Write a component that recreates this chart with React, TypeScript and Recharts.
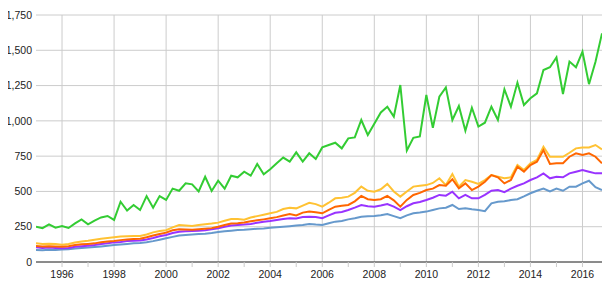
import React from 'react';
import { LineChart, Line, XAxis, YAxis, CartesianGrid, ReferenceLine } from 'recharts';

const startYear = 1995;
const green = [250,240,267,243,255,241,274,302,267,293,316,326,298,427,365,404,368,467,385,467,440,520,505,557,550,500,604,503,576,520,611,600,640,612,694,621,657,700,740,711,777,711,770,730,812,829,845,805,876,883,1006,900,980,1060,1100,1030,1254,790,880,890,1183,950,1171,1237,1006,1105,930,1093,960,987,1100,1006,1224,1100,1271,1112,1160,1195,1360,1380,1450,1190,1420,1380,1490,1260,1419,1620];
const yellow = [132,128,130,127,122,128,138,145,150,158,165,170,175,180,182,185,185,195,210,220,225,245,262,258,255,262,268,272,279,292,305,305,300,315,325,335,345,355,375,385,380,400,420,410,392,420,451,455,463,490,534,505,498,515,553,500,463,500,534,540,545,560,593,545,623,534,581,569,553,581,616,604,593,600,687,652,699,723,817,746,746,745,774,805,812,812,829,798];
const orange = [113,110,112,110,108,112,120,125,128,132,140,145,149,155,160,163,165,175,188,198,208,225,232,230,228,232,236,240,250,262,272,275,280,288,295,302,310,318,330,340,330,350,357,352,345,370,392,398,404,430,468,445,439,445,468,437,392,440,475,490,510,520,545,540,586,522,557,510,534,569,616,600,557,581,675,640,687,711,793,694,699,700,746,770,758,770,746,699];
const purple = [104,100,102,100,97,100,108,112,115,120,128,133,139,142,148,150,152,160,170,182,191,205,215,218,220,222,225,232,239,250,258,262,265,270,278,285,290,298,305,310,308,318,321,318,310,330,349,355,368,385,404,395,392,400,411,392,368,395,416,425,439,455,475,470,498,451,475,451,451,475,505,510,495,520,540,557,581,600,628,593,604,600,628,640,652,640,628,628];
const blue = [85,84,86,85,88,90,95,100,102,106,110,115,120,124,128,132,135,140,148,158,168,178,188,192,195,198,200,205,212,218,222,226,228,232,236,238,242,246,250,254,258,262,270,265,262,275,286,290,302,310,321,325,326,332,340,325,310,330,345,350,357,368,380,385,404,375,380,373,368,360,416,427,430,439,445,465,487,505,520,500,520,505,534,534,557,576,530,510];

const yearTicks = [1996,1997,1998,1999,2000,2001,2002,2003,2004,2005,2006,2007,2008,2009,2010,2011,2012,2013,2014,2015,2016];
const gridYears = [1996,1998,2000,2002,2004,2006,2008,2010,2012,2014,2016];
const valueTicks = [0,250,500,750,1000,1250,1500,1750];

const data = green.map((g, i) => ({
  t: startYear + i * 0.25,
  green: g,
  yellow: yellow[i],
  orange: orange[i],
  purple: purple[i],
  blue: blue[i],
}));

const font = { fontFamily: '"Liberation Sans", Arial, sans-serif', fontSize: 10.5, fill: '#222' };

export default function App() {
  return (
    <div style={{ margin: '-8px 0 0 -8px', width: 611, height: 296 }}>
      <LineChart width={611} height={296} data={data} margin={{ top: 15, right: 9, bottom: 4, left: 8 }}>
        <CartesianGrid vertical={false} stroke="#ccc" />
        {gridYears.map((y) => (
          <ReferenceLine key={y} x={y} stroke="#ccc" />
        ))}
        <XAxis
          dataKey="t"
          type="number"
          domain={[1995, 2016.75]}
          ticks={yearTicks}
          tickFormatter={(v: number) => (v % 2 === 0 ? String(v) : '')}
          tick={font}
          tickLine={{ stroke: '#ccc' }}
          tickSize={5}
          tickMargin={4}
          axisLine={{ stroke: '#333' }}
          height={30}
          allowDataOverflow
        />
        <YAxis
          type="number"
          domain={[0, 1750]}
          ticks={valueTicks}
          tickFormatter={(v: number) => v.toLocaleString('en-US')}
          tick={font}
          axisLine={false}
          tickLine={false}
          tickSize={0}
          tickMargin={4}
          width={28}
        />
        <Line type="linear" dataKey="blue" stroke="#6699cc" strokeWidth={2} dot={false} isAnimationActive={false} />
        <Line type="linear" dataKey="purple" stroke="#9933ff" strokeWidth={2} dot={false} isAnimationActive={false} />
        <Line type="linear" dataKey="yellow" stroke="#ffc233" strokeWidth={2} dot={false} isAnimationActive={false} />
        <Line type="linear" dataKey="orange" stroke="#ff6600" strokeWidth={2} dot={false} isAnimationActive={false} />
        <Line type="linear" dataKey="green" stroke="#33cc33" strokeWidth={2} dot={false} isAnimationActive={false} />
      </LineChart>
    </div>
  );
}
